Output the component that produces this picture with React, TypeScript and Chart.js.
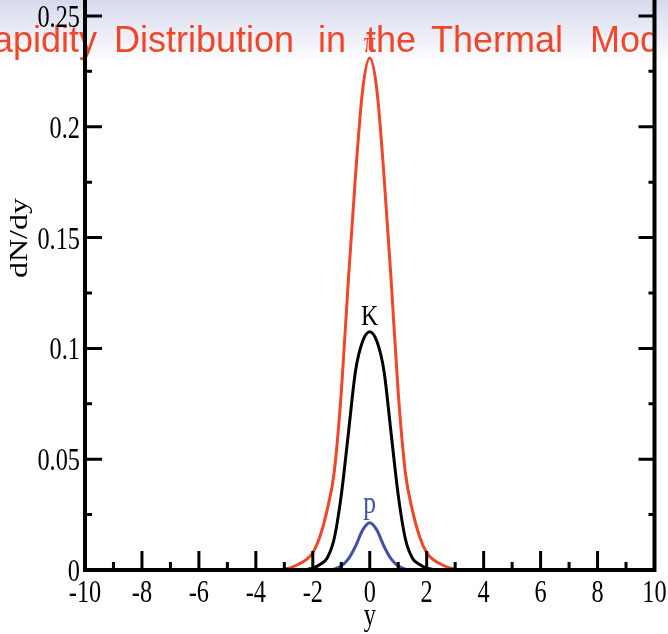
import React, { useEffect, useRef } from 'react';
import { Chart, registerables } from 'chart.js';

Chart.register(...registerables);

// ---------- data ----------
const rapidity = [-3, -2.75, -2.5, -2.25, -2, -1.75, -1.5, -1.25, -1, -0.75, -0.5, -0.25, 0, 0.25, 0.5, 0.75, 1, 1.25, 1.5, 1.75, 2, 2.25, 2.5, 2.75, 3];
const pionValues = [0.0004, 0.0012, 0.0026, 0.0045, 0.0078, 0.015, 0.0268, 0.044, 0.08, 0.131, 0.178, 0.2166, 0.231, 0.2166, 0.178, 0.131, 0.08, 0.044, 0.0268, 0.015, 0.0078, 0.0045, 0.0026, 0.0012, 0.0004];
const kaonValues = [0, 0, 0, 0.0002, 0.0008, 0.0025, 0.0053, 0.0141, 0.0338, 0.0617, 0.0898, 0.1032, 0.1075, 0.1032, 0.0898, 0.0617, 0.0338, 0.0141, 0.0053, 0.0025, 0.0008, 0.0002, 0, 0, 0];
const protonValues = [0, 0, 0, 0, 0, 0, 0.0001, 0.0004, 0.0018, 0.005, 0.0107, 0.018, 0.0213, 0.018, 0.0107, 0.005, 0.0018, 0.0004, 0.0001, 0, 0, 0, 0, 0, 0];

const seriesNames = ['π', 'K', 'p'];
const seriesColors = ['#f0462a', '#000000', '#4650a8'];

const xTickValues = [-10, -8, -6, -4, -2, 0, 2, 4, 6, 8, 10];
const xTickLabels = ['-10', '-8', '-6', '-4', '-2', '0', '2', '4', '6', '8', '10'];
const xMinorValues = [-9, -7, -5, -3, -1, 1, 3, 5, 7, 9];
const yTickValues = [0, 0.05, 0.1, 0.15, 0.2, 0.25];
const yTickLabels = ['0', '0.05', '0.1', '0.15', '0.2', '0.25'];
const yMinorValues = [0.025, 0.075, 0.125, 0.175, 0.225];

const xMin = -10;
const xMax = 10;
const yMin = 0;
const yMax = 0.2572;

const chartTitle = 'Rapidity Distribution in the Thermal Model';
const xTitle = 'y';
const yTitle = 'dN/dy';

// ---------- drawing helpers ----------
const SERIF = '"Liberation Serif", "Times New Roman", serif';
const SQUEEZE = 0.76;

function squeezedText(ctx: CanvasRenderingContext2D, text: string, x: number, y: number, align: CanvasTextAlign, sx = SQUEEZE) {
  ctx.save();
  ctx.translate(x, y);
  ctx.scale(sx, 1);
  ctx.textAlign = align;
  ctx.textBaseline = 'alphabetic';
  ctx.fillText(text, 0, 0);
  ctx.restore();
}

// word start positions of the (cropped, loosely spaced) title banner
const titleWordStarts = [-33, 114, 318, 366, 431, 590];

const decorPlugin = {
  id: 'decor',
  beforeDraw(chart: any) {
    const { ctx, width, height } = chart;
    ctx.save();
    ctx.fillStyle = '#ffffff';
    ctx.fillRect(0, 0, width, height);
    const g = ctx.createLinearGradient(0, 0, 0, 64);
    g.addColorStop(0, '#d7daec');
    g.addColorStop(1, '#ffffff');
    ctx.fillStyle = g;
    ctx.fillRect(0, 0, width, 64);
    // title (cropped at the right frame)
    ctx.beginPath();
    ctx.rect(0, 0, chart.chartArea.right + 1, height);
    ctx.clip();
    ctx.font = '36px "Liberation Sans", Arial, sans-serif';
    ctx.fillStyle = '#f0462a';
    ctx.textAlign = 'left';
    ctx.textBaseline = 'alphabetic';
    chartTitle.split(' ').forEach((w, i) => {
      ctx.fillText(w, titleWordStarts[i], 52);
    });
    ctx.restore();
  },
  afterDraw(chart: any) {
    const { ctx, chartArea: a } = chart;
    const xs = chart.scales.x;
    const ys = chart.scales.y;
    ctx.save();

    // curve labels at each peak
    const all = [pionValues, kaonValues, protonValues];
    const labelFonts = [30, 30, 32];
    const labelGaps = [6, 7, 10];
    seriesNames.forEach((name, i) => {
      const peak = Math.max(...all[i]);
      const idx = all[i].indexOf(peak);
      const px = xs.getPixelForValue(rapidity[idx]);
      const py = ys.getPixelForValue(peak);
      ctx.fillStyle = seriesColors[i];
      ctx.font = `${labelFonts[i]}px ${SERIF}`;
      squeezedText(ctx, name, px, py - labelGaps[i], 'center', 0.8);
    });

    // frame
    ctx.strokeStyle = '#000';
    ctx.lineWidth = 4;
    ctx.lineJoin = 'miter';
    ctx.lineCap = 'square';
    ctx.beginPath();
    ctx.moveTo(a.left, a.top - 4);
    ctx.lineTo(a.left, a.bottom);
    ctx.lineTo(a.right, a.bottom);
    ctx.lineTo(a.right, a.top - 4);
    ctx.stroke();

    // ticks (inward)
    ctx.lineWidth = 3;
    ctx.lineCap = 'butt';
    ctx.beginPath();
    xs.ticks.forEach((t: any) => {
      if (t.value <= xMin || t.value >= xMax) return;
      const px = xs.getPixelForValue(t.value);
      ctx.moveTo(px, a.bottom);
      ctx.lineTo(px, a.bottom - 19);
    });
    xMinorValues.forEach((v) => {
      const px = xs.getPixelForValue(v);
      ctx.moveTo(px, a.bottom);
      ctx.lineTo(px, a.bottom - 8);
    });
    ys.ticks.forEach((t: any) => {
      const py = ys.getPixelForValue(t.value);
      ctx.moveTo(a.left, py);
      ctx.lineTo(a.left + 17, py);
      ctx.moveTo(a.right, py);
      ctx.lineTo(a.right - 16, py);
    });
    yMinorValues.forEach((v) => {
      const py = ys.getPixelForValue(v);
      ctx.moveTo(a.left, py);
      ctx.lineTo(a.left + 7, py);
      ctx.moveTo(a.right, py);
      ctx.lineTo(a.right - 6, py);
    });
    ctx.stroke();

    // tick labels
    ctx.fillStyle = '#000';
    ctx.font = `32px ${SERIF}`;
    xs.ticks.forEach((t: any, i: number) => {
      const px = xs.getPixelForValue(t.value);
      squeezedText(ctx, xTickLabels[i], px, a.bottom + 32, 'center');
    });
    ys.ticks.forEach((t: any, i: number) => {
      const py = ys.getPixelForValue(t.value);
      squeezedText(ctx, yTickLabels[i], a.left - 5, py + 11, 'right');
    });

    // axis titles
    squeezedText(ctx, xTitle, (a.left + a.right) / 2, a.bottom + 55, 'center');
    ctx.save();
    ctx.translate(21, 238);
    ctx.scale(SQUEEZE, 1);
    ctx.rotate(-Math.PI / 2);
    ctx.textAlign = 'center';
    ctx.textBaseline = 'middle';
    ctx.fillText(yTitle, 0, 0);
    ctx.restore();

    ctx.restore();
  },
};

export default function App() {
  const ref = useRef<HTMLCanvasElement | null>(null);

  useEffect(() => {
    if (!ref.current) return;
    const seriesValues = [pionValues, kaonValues, protonValues];
    const chart = new Chart(ref.current, {
      type: 'line',
      data: {
        datasets: seriesValues.map((vals, i) => ({
          label: seriesNames[i],
          data: rapidity.map((r, j) => ({ x: r, y: vals[j] })),
          borderColor: seriesColors[i],
          backgroundColor: seriesColors[i],
          borderWidth: 3,
          pointRadius: 0,
          fill: false,
          cubicInterpolationMode: 'monotone' as const,
        })),
      },
      options: {
        animation: false,
        responsive: false,
        maintainAspectRatio: false,
        events: [],
        layout: { padding: { left: 0, right: 13.5, top: 0, bottom: 0 } },
        plugins: {
          legend: { display: false },
          title: { display: false },
          tooltip: { enabled: false },
        },
        scales: {
          x: {
            type: 'linear',
            min: xMin,
            max: xMax,
            grid: { display: false },
            border: { display: false },
            ticks: { display: false, includeBounds: false },
            afterBuildTicks: (s: any) => {
              s.ticks = xTickValues.map((v) => ({ value: v }));
            },
            afterFit: (s: any) => {
              s.height = 64;
            },
          },
          y: {
            type: 'linear',
            min: yMin,
            max: yMax,
            grid: { display: false },
            border: { display: false },
            ticks: { display: false, includeBounds: false },
            afterBuildTicks: (s: any) => {
              s.ticks = yTickValues.map((v) => ({ value: v }));
            },
            afterFit: (s: any) => {
              s.width = 85;
            },
          },
        },
      },
      plugins: [decorPlugin],
    });
    return () => chart.destroy();
  }, []);

  return (
    <div style={{ position: 'fixed', left: 0, top: 0, width: 668, height: 634, background: '#fff' }}>
      <canvas ref={ref} width={668} height={634} style={{ display: 'block', width: 668, height: 634 }} />
    </div>
  );
}
